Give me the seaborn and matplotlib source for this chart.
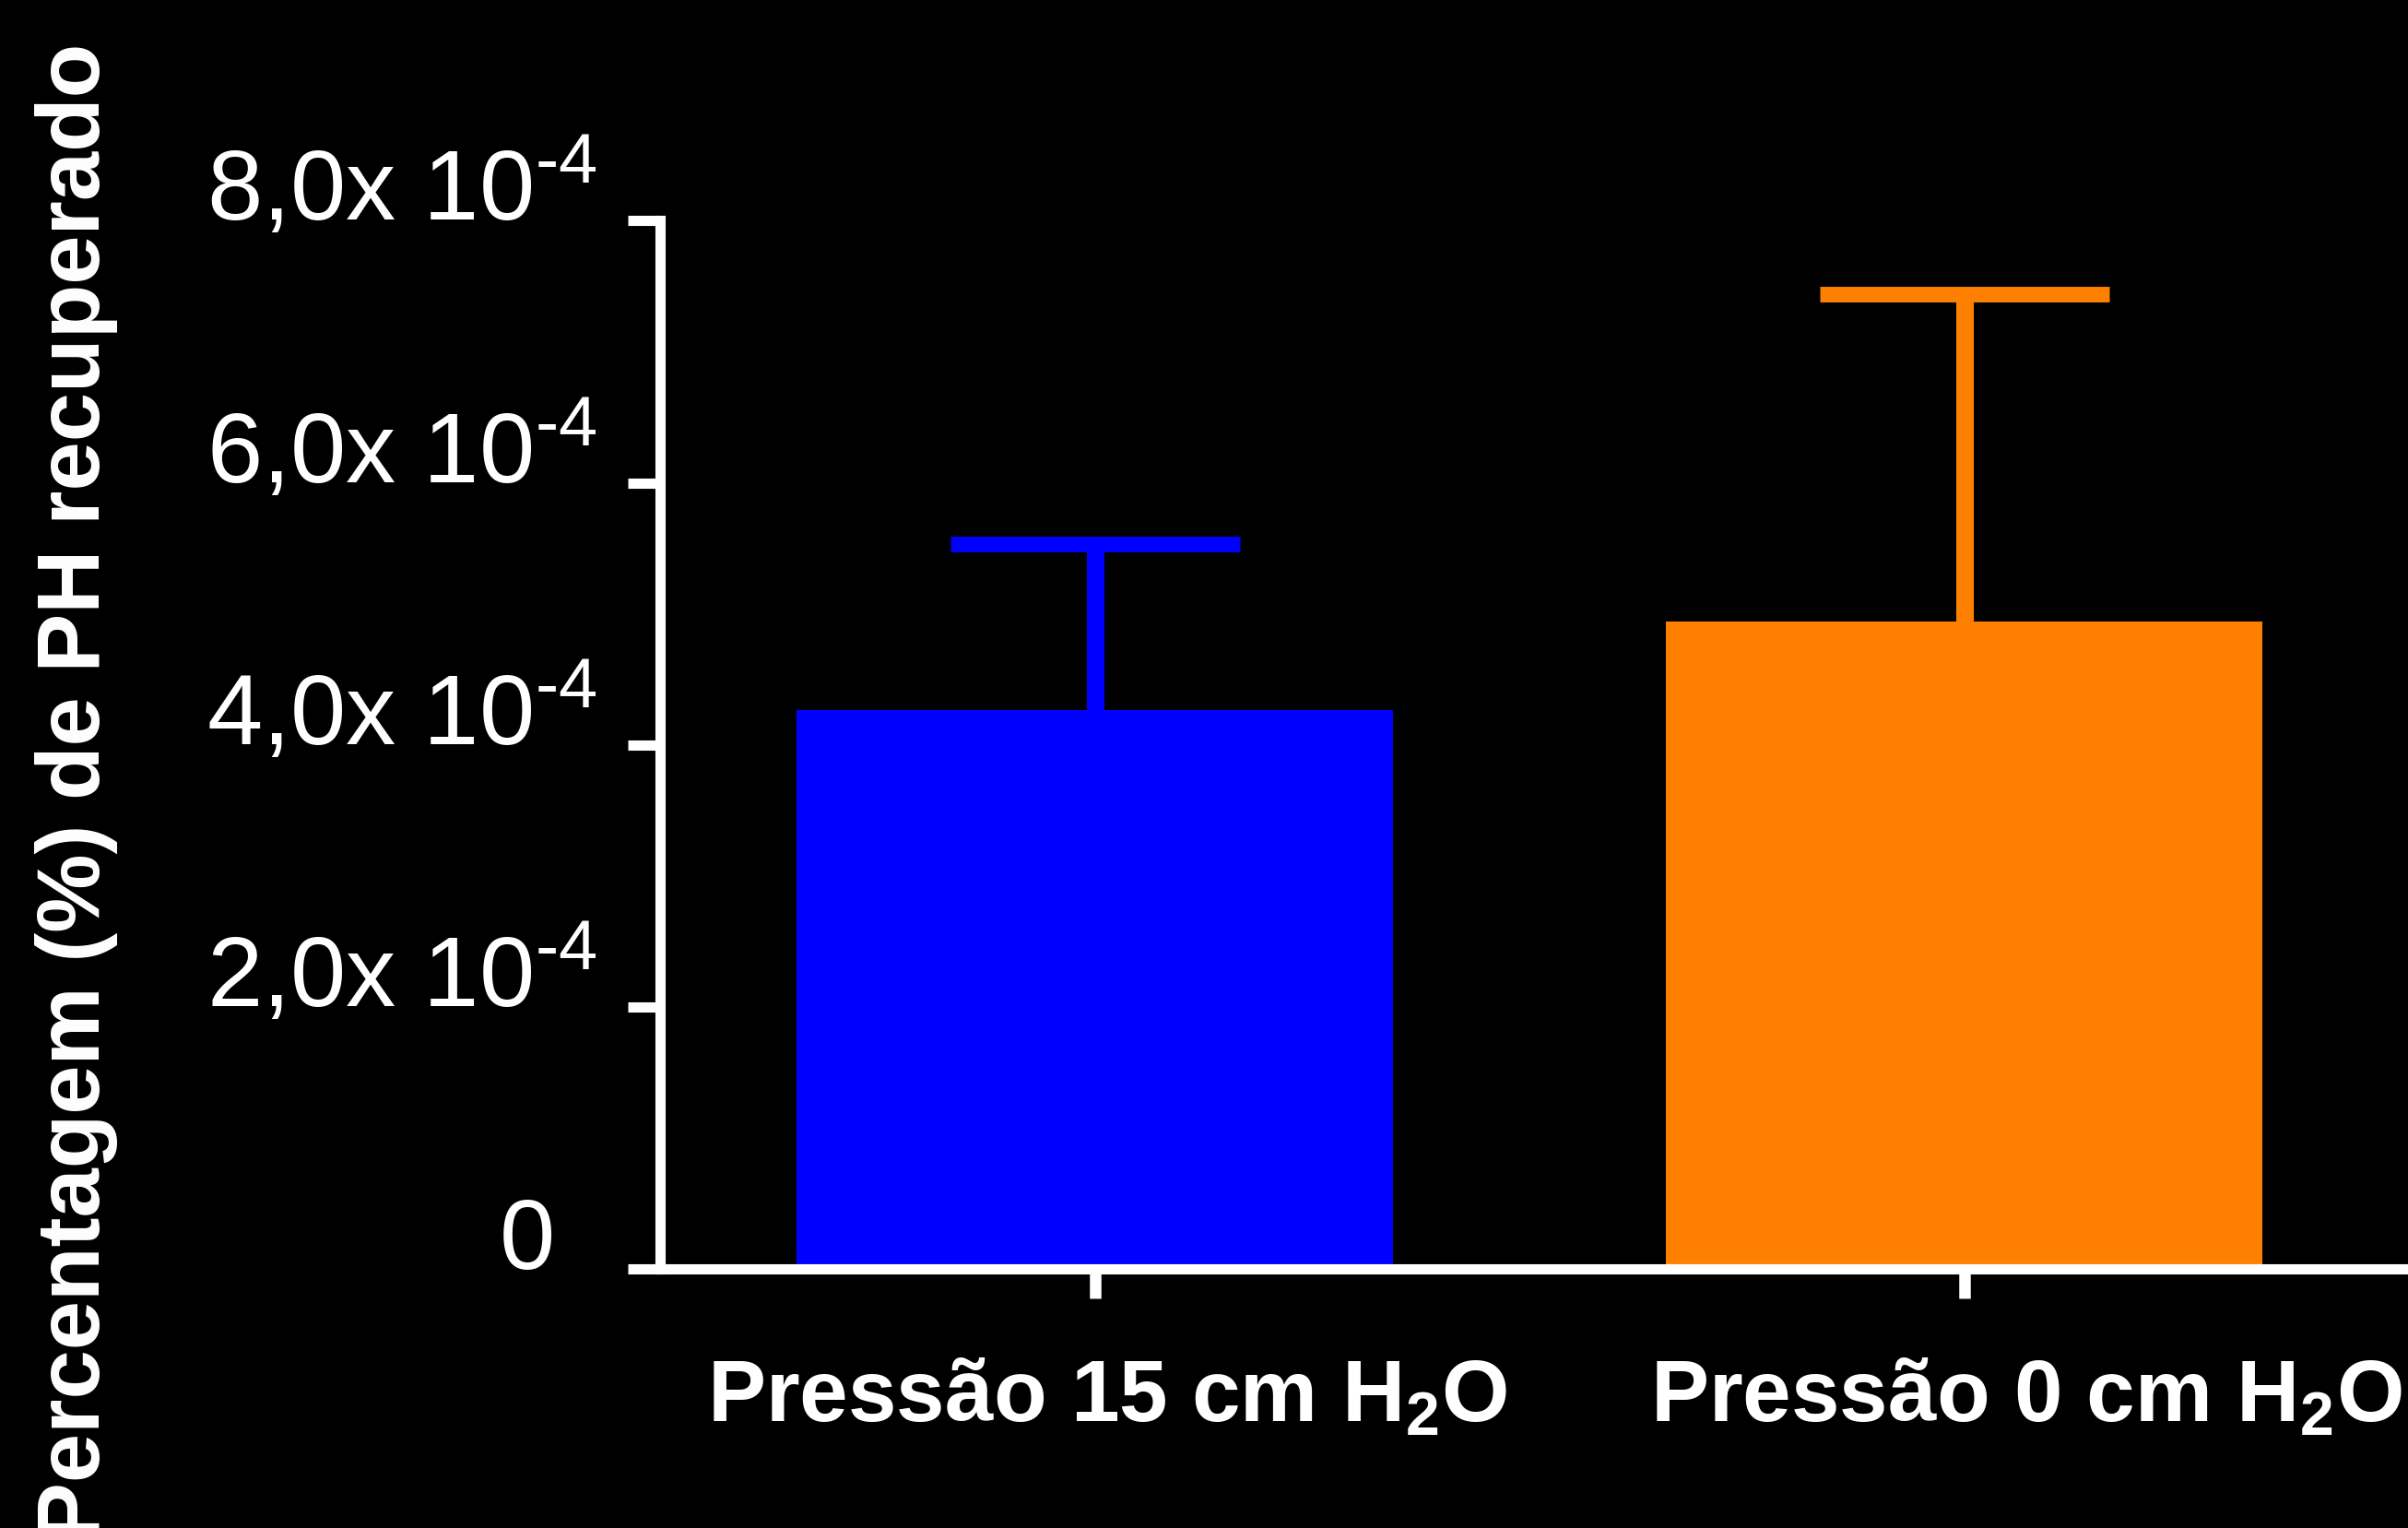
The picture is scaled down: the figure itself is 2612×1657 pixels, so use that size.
import matplotlib
matplotlib.use("Agg")
import matplotlib.pyplot as plt
import matplotlib.transforms as mtransforms
import seaborn as sns

# === Data ===
categories = ["Pressão 15 cm H$_2$O", "Pressão 0 cm H$_2$O"]
means = [4.27e-4, 4.94e-4]
sems = [1.26e-4, 2.50e-4]
colors = ["#0000FF", "#FF8000"]
ytick_values = [0, 2e-4, 4e-4, 6e-4, 8e-4]
ytick_labels = ["0", r"2,0x 10$^{\text{-}4}$", r"4,0x 10$^{\text{-}4}$",
                r"6,0x 10$^{\text{-}4}$", r"8,0x 10$^{\text{-}4}$"]
ylabel = "Percentagem (%) de PH recuperado"

# === Style ===
sns.set_theme(style="ticks")
plt.rcParams['font.family'] = ['Liberation Sans', 'DejaVu Sans']
plt.rcParams['mathtext.fontset'] = 'custom'
plt.rcParams['mathtext.rm'] = 'Liberation Sans'
plt.rcParams['mathtext.default'] = 'regular'

fig = plt.figure(figsize=(26.12, 16.57), dpi=100, facecolor='black')
ax = fig.add_axes([0.2741, 0.1693, 0.7248, 0.6862], facecolor='black')

sns.barplot(x=categories, y=means, hue=categories, palette=colors, width=0.686,
            saturation=1, legend=False, errorbar=None, linewidth=0, zorder=2, ax=ax)

# SEM bars drawn behind the bars, so only the upper half shows
for i, (m, s, c) in enumerate(zip(means, sems, colors)):
    ax.errorbar([i], [m], yerr=[s], fmt='none', ecolor=c,
                elinewidth=13.7, capsize=113, capthick=12.2, zorder=1)

ax.set_xlim(-0.5, 1.507)
ax.set_ylim(0, 8e-4)
ax.set_yticks(ytick_values)
ax.set_yticklabels(ytick_labels)
ax.set_xlabel("")
ax.set_ylabel("")

for side in ['top', 'right']:
    ax.spines[side].set_visible(False)
for side in ['left', 'bottom']:
    ax.spines[side].set_color('white')
    ax.spines[side].set_linewidth(8)
    ax.spines[side].set_zorder(5)

ax.tick_params(axis='y', length=25, width=8, color='white', pad=24,
               labelsize=78, labelcolor='white')
ax.tick_params(axis='x', length=23, width=9, color='white', pad=46,
               labelsize=68, labelcolor='white')
for lab in ax.get_xticklabels():
    lab.set_fontweight('bold')
for lab in ax.get_yticklabels():
    lab.set_verticalalignment('baseline')

# small nudges of individual labels, as in the original
def nudge(text, dx_px, dy_px=0):
    text.set_transform(text.get_transform() +
                       mtransforms.ScaledTranslation(dx_px / 100, dy_px / 100, fig.dpi_scale_trans))

ytk = ax.yaxis.get_major_ticks()
nudge(ytk[0].label1, -46)
xtk = ax.xaxis.get_major_ticks()
nudge(xtk[0].label1, 13)
nudge(xtk[1].label1, 67)

fig.text(108 / 2612, 1 - 859 / 1657, ylabel, rotation=90, rotation_mode='anchor',
         ha='center', va='baseline', fontsize=69, fontweight='bold', color='white')

fig.savefig("out.png", dpi=100, facecolor='black')
